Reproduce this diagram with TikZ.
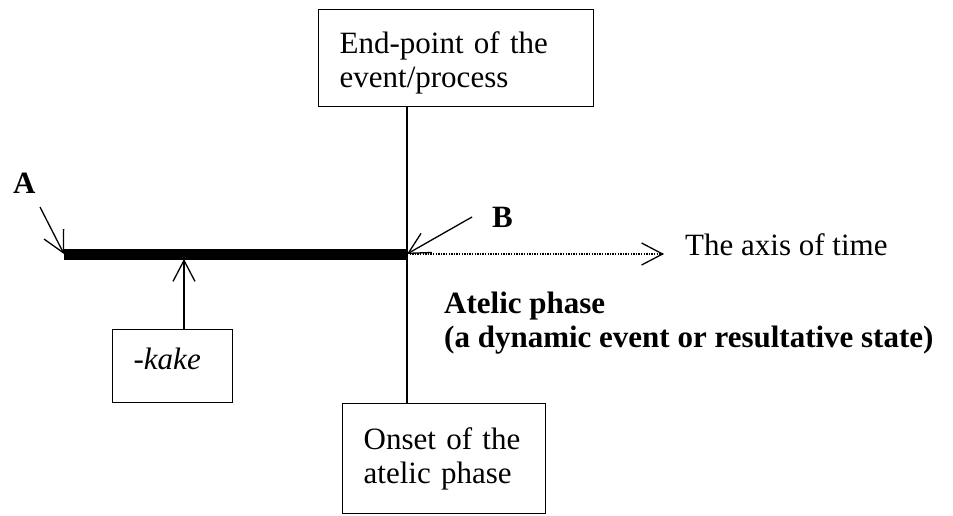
\documentclass[tikz,border=0pt]{standalone}
\usepackage{fontspec}
\setmainfont{Liberation Serif}
\usetikzlibrary{arrows.meta,calc}
\tikzset{
  box/.style={draw, line width=1.3pt, anchor=north west, align=left, inner xsep=21pt, inner ysep=0pt},
  barb/.style={line width=1.3pt, -{Straight Barb[length=21pt, width=22pt, line width=1.3pt]}},
  lbl/.style={inner sep=0pt, anchor=base west}
}
\begin{document}
\begin{tikzpicture}[x=1pt, y=-1pt, every node/.style={font=\fontsize{31}{34}\selectfont}]
    \useasboundingbox (0,0) rectangle (953,515);
    \coordinate (bstart) at (64,254);
    \coordinate (bend) at (407,254);
    \coordinate (kaketip) at (184,259);
    \coordinate (atail) at (40,207);
    \coordinate (btail) at (472,217);
    \coordinate (axend) at (664,254);

    \node[box, minimum width=275pt, minimum height=97pt, text width=233pt, text height=31pt] (endpt) at (318,9) {End-point of the\\event/process};
    \node[box, minimum width=203pt, minimum height=110pt, text width=161pt] (onset) at (342,403) {Onset of the\\atelic phase};
    \node[box, minimum width=120pt, minimum height=73pt, text width=78pt, text depth=14pt] (kake) at (112,329) {\itshape -kake};

    \node[lbl, font=\fontsize{31}{34}\selectfont\bfseries] (a) at (13,193) {A};
    \node[lbl, font=\fontsize{31}{34}\selectfont\bfseries] (b) at (492,227) {B};
    \node[lbl] (axis) at (685,255) {The axis of time};
    \node[lbl, align=left, font=\fontsize{31}{34}\selectfont\bfseries] (atelic) at (444,347) {Atelic phase\\(a dynamic event or resultative state)};

    \draw[line width=1.3pt] (bend |- endpt.south) -- (bend |- onset.north);
    \draw[line width=11pt] (bstart) -- (bend);
    \draw[barb] (atail) -- (bstart);
    \draw[barb] (btail) -- (bend);
    \draw[barb] (kaketip |- kake.north) -- (kaketip);
    \draw[barb, dash pattern=on 1.3pt off 1.3pt] (bend) -- (axend);
\end{tikzpicture}
\end{document}
